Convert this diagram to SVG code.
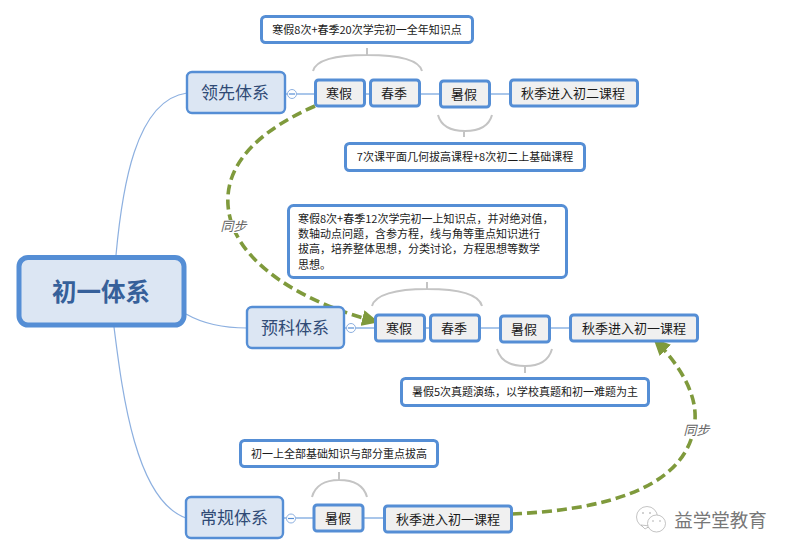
<svg xmlns="http://www.w3.org/2000/svg" width="793" height="555" viewBox="0 0 793 555">
<style>
text{font-family:"Noto Sans CJK SC","Noto Sans",sans-serif;text-anchor:middle;fill:#1a1a1a}
.root rect{fill:#dce6f3;stroke:#558ed5;stroke-width:5}
.root text{font-size:24.500px;font-weight:700;fill:#36609a}
.main rect{fill:#dce6f3;stroke:#558ed5;stroke-width:2.400}
.main text{font-size:17px;fill:#2f4a75}
.leaf rect{fill:#f0f0f0;stroke:#558ed5;stroke-width:3}
.leaf text{font-size:13px}
.note rect{fill:#fff;stroke:#558ed5;stroke-width:3}
.note text{font-size:11px}
.note .l{text-anchor:start}
.link{fill:none;stroke:#558ed5;stroke-width:1.200}
.thin{fill:none;stroke:#8db0e0;stroke-width:1.200}
.tog{fill:#fff;stroke:#8db0e0;stroke-width:1}
.brace{fill:none;stroke:#c4c4c4;stroke-width:2}
.rel{fill:none;stroke:#7f9a3c;stroke-width:3.600;stroke-dasharray:10 5}
.rl{font-size:13px;font-style:italic;fill:#666}
.lb{fill:#fff}
.wi{fill:#fff;stroke:#aaa;stroke-width:.7}
</style>
<defs>
<marker id="ah" markerUnits="userSpaceOnUse" markerWidth="17" markerHeight="16" refX="16" refY="8" orient="auto"><path d="M0 0L17 8L0 16Z" fill="#7f9a3c"/></marker>
</defs>
<rect width="793" height="555" fill="#fff"/>
<g id="connectors">
<path class="thin" d="M116 255C122 190 135 100 187 93"/>
<path class="thin" d="M186 314C200 322 220 328 247 328"/>
<path class="thin" d="M114 327C122 390 135 500 186 518"/>
<path class="link" d="M285 94H315M365 94H370M420 94H440M490 94H510"/>
<path class="link" d="M344 328H375M425 328H430M480 328H500M550 328H570"/>
<path class="link" d="M283 518H313M364 518H384"/>
<path class="brace" d="M313 71C316 60 335 55 367 55C400 55 419 60 422 71M367 48V55"/>
<path class="brace" d="M438 115C441 126 450 131 465 131C480 131 489 126 492 115M464 131V137"/>
<path class="brace" d="M372 306C375 295 395 289 427 289C460 289 479 295 482 306M427 282V289"/>
<path class="brace" d="M497 349C500 360 510 366 525 366C540 366 549 360 552 349M525 366V373"/>
<path class="brace" d="M312 497C315 486 325 480 339 480C354 480 364 486 367 497M339 472V480"/>
<path class="rel" marker-end="url(#ah)" d="M315 106C265 128 225 160 228 205C232 265 310 305 378 322"/>
<path class="rel" marker-end="url(#ah)" d="M512 514C600 510 690 490 695 420C697 390 675 360 654 339"/>
</g>
<g id="root" class="root"><rect x="19" y="257.500" width="165" height="67.500" rx="9"/><text x="101" y="301">初一体系</text></g>
<g id="n1" class="main"><rect x="187" y="72" width="98" height="41" rx="5"/><text x="235" y="99">领先体系</text></g>
<g id="n2" class="main"><rect x="247" y="307" width="97" height="41" rx="5"/><text x="295" y="334">预科体系</text></g>
<g id="n3" class="main"><rect x="186" y="497" width="97" height="41" rx="5"/><text x="234" y="524">常规体系</text></g>
<g id="t1"><circle class="tog" cx="292" cy="94" r="4.500"/><path class="link" d="M289 94H295"/></g>
<g id="t2"><circle class="tog" cx="351" cy="328" r="4.500"/><path class="link" d="M348 328H354"/></g>
<g id="t3"><circle class="tog" cx="291" cy="518.500" r="4.500"/><path class="link" d="M288 518.500H294"/></g>
<g id="a1" class="leaf"><rect x="315.500" y="80" width="49" height="26" rx="3"/><text x="339" y="98">寒假</text></g>
<g id="a2" class="leaf"><rect x="370.500" y="80" width="49" height="26" rx="3"/><text x="394" y="98">春季</text></g>
<g id="a3" class="leaf"><rect x="440.500" y="81" width="49" height="26" rx="3"/><text x="464" y="99">暑假</text></g>
<g id="a4" class="leaf"><rect x="510.500" y="80" width="127" height="26" rx="3"/><text x="573" y="98">秋季进入初二课程</text></g>
<g id="b1" class="leaf"><rect x="375.500" y="315" width="49" height="26" rx="3"/><text x="399" y="333">寒假</text></g>
<g id="b2" class="leaf"><rect x="430.500" y="315" width="49" height="26" rx="3"/><text x="454" y="333">春季</text></g>
<g id="b3" class="leaf"><rect x="500.500" y="316" width="49" height="26" rx="3"/><text x="524" y="334">暑假</text></g>
<g id="b4" class="leaf"><rect x="570.500" y="315" width="127" height="26" rx="3"/><text x="634" y="333">秋季进入初一课程</text></g>
<g id="c1" class="leaf"><rect x="314" y="505" width="49" height="26" rx="3"/><text x="338" y="523">暑假</text></g>
<g id="c2" class="leaf"><rect x="384.500" y="506" width="127" height="26" rx="3"/><text x="448" y="524">秋季进入初一课程</text></g>
<g id="note1" class="note"><rect x="261.500" y="16.500" width="211" height="26" rx="4"/><text x="367" y="34">寒假8次+春季20次学完初一全年知识点</text></g>
<g id="note2" class="note"><rect x="345.500" y="143.500" width="239" height="27" rx="4"/><text x="465" y="161">7次课平面几何拔高课程+8次初二上基础课程</text></g>
<g id="note3" class="note"><rect x="288.500" y="205.500" width="278" height="72" rx="5"/>
<text class="l" x="298" y="223">寒假8次+春季12次学完初一上知识点，并对绝对值，</text>
<text class="l" x="298" y="238">数轴动点问题，含参方程，线与角等重点知识进行</text>
<text class="l" x="298" y="253">拔高，培养整体思想，分类讨论，方程思想等数学</text>
<text class="l" x="298" y="269">思想。</text></g>
<g id="note4" class="note"><rect x="401.500" y="378.500" width="247" height="27" rx="4"/><text x="525" y="396">暑假5次真题演练，以学校真题和初一难题为主</text></g>
<g id="note5" class="note"><rect x="240.500" y="440.500" width="197" height="26" rx="4"/><text x="339" y="458">初一上全部基础知识与部分重点拔高</text></g>
<rect class="lb" x="220" y="220" width="27" height="13"/>
<text class="rl" x="233.500" y="231">同步</text>
<rect class="lb" x="683" y="423" width="27" height="14"/>
<text class="rl" x="696.500" y="435">同步</text>
<g id="wm">
<circle class="wi" cx="647" cy="517" r="10.500"/>
<path class="wi" d="M645 529L641 525L650 526Z"/>
<ellipse class="wi" cx="656.500" cy="523.500" rx="9" ry="8.500"/>
<circle cx="643" cy="513" r=".8" fill="#999"/><circle cx="650" cy="513" r=".8" fill="#999"/>
<circle cx="653" cy="521" r=".7" fill="#999"/><circle cx="660" cy="521" r=".7" fill="#999"/>
<text x="720.500" y="527" style="font-size:18.500px;fill:#777">益学堂教育</text>
</g>
</svg>
